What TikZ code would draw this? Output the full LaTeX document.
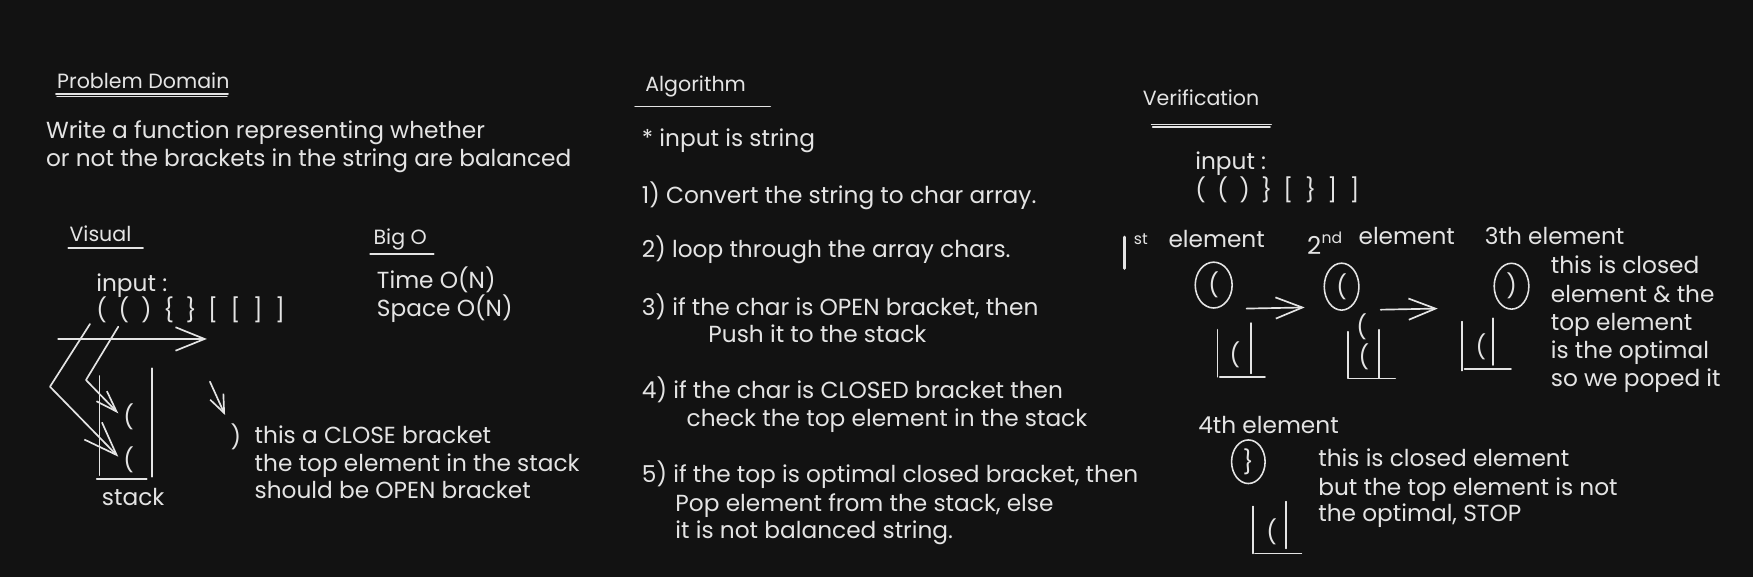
\documentclass[tikz,border=0pt]{standalone}
\usepackage{fontspec}
\setmainfont{Poppins}
\usetikzlibrary{arrows.meta,shapes.geometric}
\definecolor{bgc}{HTML}{121212}
\definecolor{ink}{HTML}{E4E4E4}
\newcommand\fs{\fontsize{20.8}{26}\selectfont}
\newcommand\fst{\fontsize{18.4}{22}\selectfont}
\newcommand\fsm{\fontsize{14}{16}\selectfont}
\newcommand\bk[1]{\makebox[20pt][l]{#1}}
\newcommand\bkr[1]{\makebox[19.7pt][l]{#1}}
\tikzset{
  t/.style={text=ink, font=\fs, inner sep=0pt, anchor=base west},
  ttl/.style={t, font=\fst},
  ch/.style={text=ink, font=\fs, inner sep=0pt, anchor=center},
  ln/.style={draw=ink, line width=1.5pt, line cap=round, line join=round},
  ul/.style={draw=ink, line width=1.3pt, line cap=round},
  bigarr/.style={ln, -{Straight Barb[length=26pt,width=21pt]}},
  midarr/.style={ln, -{Straight Barb[length=24pt,width=19pt]}},
  smallarr/.style={ln, -{Straight Barb[length=16pt,width=13pt]}},
  circ/.style={draw=ink, line width=1.4pt, ellipse, inner sep=0pt},
  stk/.style={draw=ink, line width=1.5pt, line cap=round},
}
\begin{document}
\begin{tikzpicture}[x=1pt,y=-1pt]
\fill[bgc] (0,0) rectangle (1568,516);
\useasboundingbox (0,0) rectangle (1568,516);

% ---------------- Left: Problem Domain ----------------
\node[ttl] (pd) at (51,79) {Problem Domain};
\draw[ul] (50,84) -- (204,84);
\draw[ul] (51,86.2) -- (203,86.2);
\node[t] (w1) at (41,124) {Write a function representing whether};
\node[t] (w2) at (41,149) {or not the brackets in the string are balanced};

\node[ttl] (vis) at (62,216) {Visual};
\draw[ul] (61,222) -- (128,222);
\node[ttl] (bigo) at (334,219) {Big O};
\draw[ul] (331,227) -- (388,227);
\node[t] (time) at (337,258) {Time O(N)};
\node[t] (space) at (337,283) {Space O(N)};

\node[t] (inL) at (86,261) {input :};
\node[t] (strL) at (86,285) {\bk{(}\bk{(}\bk{)}\bk{\{}\bk{\}}\bk{[}\bk{[}\bk{]}]};

% long arrow under input
\coordinate (hA) at (52,303.2);
\coordinate (hB) at (185,303.2);
\draw[bigarr] (hA) -- (hB);

% stack
\draw[stk] (89,336.3) -- (89,425);
\draw[stk] (135.7,329.4) -- (135.7,426.4);
\draw[stk] (86.5,428.4) -- (131.2,428.4);
\node[ch] (sU) at (115,373) {(};
\node[ch] (sL) at (115,411) {(};
\node[t] (stk) at (91,452) {stack};

% paths from input brackets into stack
\coordinate (a0) at (80.5,289.8);
\coordinate (a1) at (44.7,345.9);
\coordinate (a2) at (105.8,408.5);
\draw[ln, -{Straight Barb[length=30pt,width=22pt]}] (a0) -- (a1) -- (a2);
\coordinate (b0) at (105.8,292.2);
\coordinate (b1) at (76.9,339.9);
\coordinate (b2) at (105.8,369.7);
\draw[ln, -{Straight Barb[length=19pt,width=13pt]}] (b0) -- (b1) -- (b2);

% small down arrow
\coordinate (d0) at (187.8,341.4);
\coordinate (d1) at (201.3,371.2);
\draw[smallarr] (d0) -- (d1);

\node[ch] (cp) at (211,390.6) {)};
\node[t] (c1) at (227.6,396.5) {this a CLOSE bracket};
\node[t] (c2) at (227.6,422) {the top element in the stack};
\node[t] (c3) at (227.6,445.7) {should be OPEN bracket};

% ---------------- Middle: Algorithm ----------------
\node[ttl] (alg) at (577,82) {Algorithm};
\draw[ul] (568,95.5) -- (689,95.5);
\node[t] (a0t) at (574,131) {* input is string};
\node[t] (s1) at (574,182) {1) Convert the string to char array.};
\node[t] (s2) at (574,230) {2) loop through the array chars.};
\node[t] (s3) at (574,282) {3) if the char is OPEN bracket, then};
\node[t] (s3b) at (633.5,306.5) {Push it to the stack};
\node[t] (s4) at (574,356) {4) if the char is CLOSED bracket then};
\node[t] (s4b) at (614,381.5) {check the top element in the stack};
\node[t] (s5) at (574,432) {5) if the top is optimal closed bracket, then};
\node[t] (s5b) at (604,457.5) {Pop element from the stack, else};
\node[t] (s5c) at (604,481.5) {it is not balanced string.};

% ---------------- Right: Verification ----------------
\node[ttl] (ver) at (1022,94) {Verification};
\draw[ul] (1030,111.5) -- (1137,111.5);
\draw[ul] (1031,113.8) -- (1136,113.8);
\node[t] (inR) at (1069,152) {input :};
\node[t] (strR) at (1069,177.4) {\bkr{(}\bkr{(}\bkr{)}\bkr{\}}\bkr{[}\bkr{\}}\bkr{]}]};

% 1st element
\draw[ln, line width=2.6pt] (1006,212) -- (1006,240);
\node[t, font=\fsm] (st) at (1014,219) {st};
\node[t] (e1) at (1045,221.2) {element};
% 2nd element
\node[t, font=\fontsize{22}{24}\selectfont] (two) at (1169,228) {2};
\node[t, font=\fsm] (nd) at (1182,217.6) {nd};
\node[t] (e2) at (1215,219) {element};
% 3th element
\node[t] (e3) at (1328,219) {3th element};

\node[circ, minimum width=33pt, minimum height=41pt] (o1) at (1085.6,255) {};
\node[ch] at (o1.center) {(};
\node[circ, minimum width=31pt, minimum height=42pt] (o2) at (1200,256.4) {};
\node[ch] at (o2.center) {(};
\node[circ, minimum width=31pt, minimum height=41pt] (o3) at (1352,256) {};
\node[ch] at (o3.center) {)};

\coordinate (r1a) at (1115,276);
\coordinate (r1b) at (1167,275);
\draw[midarr] (r1a) -- (r1b);
\coordinate (r2a) at (1235,277);
\coordinate (r2b) at (1286,276);
\draw[midarr] (r2a) -- (r2b);

% stack 1
\draw[stk] (1089,295) -- (1089,337);
\draw[stk] (1119,289) -- (1119,334);
\draw[stk] (1091,337) -- (1131.5,337);
\node[ch] at (1104.6,317.6) {(};
% stack 2
\draw[stk] (1205.5,296.7) -- (1205.5,338);
\draw[stk] (1233.6,295) -- (1233.6,338);
\draw[stk] (1205.7,338.5) -- (1248,338.5);
\node[ch] at (1218,292) {(};
\node[ch] at (1220,319) {(};
% stack 3
\draw[stk] (1307.5,287.7) -- (1307.5,331.5);
\draw[stk] (1335.6,284.7) -- (1335.6,326.5);
\draw[stk] (1310,330) -- (1351.5,330);
\node[ch] at (1324.7,310) {(};

\node[t] (v1) at (1387,245) {this is closed};
\node[t] (v2) at (1387,270.7) {element \& the};
\node[t] (v3) at (1387,295.2) {top element};
\node[t] (v4) at (1387,320.5) {is the optimal};
\node[t] (v5) at (1387,345.3) {so we poped it};

% 4th element
\node[t] (e4) at (1071.6,387.6) {4th element};
\node[circ, minimum width=30pt, minimum height=39pt] (o4) at (1116.6,413) {};
\node[ch] at (o4.center) {\}};
\draw[stk] (1121,453) -- (1121,495);
\draw[stk] (1150,448.7) -- (1150,490.5);
\draw[stk] (1122.6,495) -- (1164,495);
\node[ch] at (1137.5,475.5) {(};
\node[t] (x1) at (1179,417.4) {this is closed element};
\node[t] (x2) at (1179,442.8) {but the top element is not};
\node[t] (x3) at (1179,466.6) {the optimal, STOP};
\end{tikzpicture}
\end{document}
